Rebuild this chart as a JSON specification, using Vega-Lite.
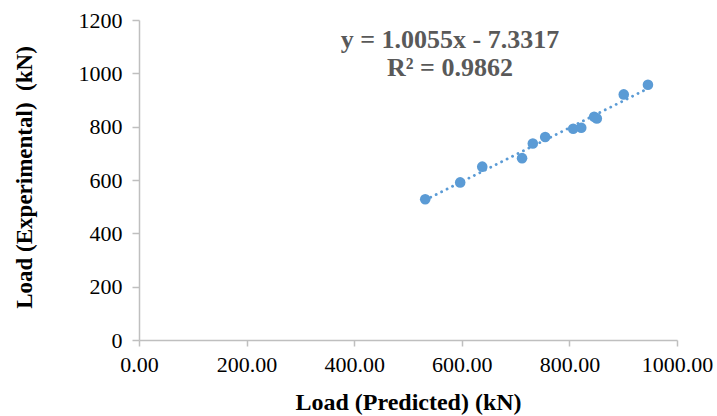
{
  "$schema": "https://vega.github.io/schema/vega-lite/v6.json",
  "autosize": "none",
  "width": 538,
  "height": 320,
  "padding": {"left": 139, "top": 20, "right": 40, "bottom": 76},
  "background": "white",
  "config": {
    "view": {"stroke": null},
    "font": "Liberation Serif"
  },
  "data": {
    "values": [
      {"pred": 532, "exp": 528},
      {"pred": 597, "exp": 591},
      {"pred": 638, "exp": 650},
      {"pred": 712, "exp": 682},
      {"pred": 732, "exp": 737},
      {"pred": 755, "exp": 761},
      {"pred": 807, "exp": 792},
      {"pred": 822, "exp": 796},
      {"pred": 846, "exp": 837},
      {"pred": 851, "exp": 831},
      {"pred": 901, "exp": 921},
      {"pred": 946, "exp": 957}
    ]
  },
  "layer": [
    {
      "transform": [{"regression": "exp", "on": "pred", "method": "linear"}],
      "mark": {"type": "line", "color": "#5b9bd5", "strokeWidth": 2.8, "strokeDash": [0.1, 6], "strokeCap": "round"},
      "encoding": {
        "x": {"field": "pred", "type": "quantitative"},
        "y": {"field": "exp", "type": "quantitative"}
      }
    },
    {
      "mark": {"type": "circle", "color": "#5b9bd5", "opacity": 1, "size": 112},
      "encoding": {
        "x": {
          "field": "pred", "type": "quantitative",
          "scale": {"domain": [0, 1000], "nice": false, "zero": true},
          "axis": {
            "values": [0, 200, 400, 600, 800, 1000], "format": ".2f",
            "title": "Load (Predicted) (kN)", "labelFlush": false,
            "grid": false, "domainColor": "#bfbfbf", "tickColor": "#bfbfbf", "domainWidth": 1.5, "tickWidth": 1.5, "tickSize": 6,
            "labelFont": "Liberation Serif", "labelFontSize": 22, "labelColor": "#000000", "labelPadding": 8,
            "titleFont": "Liberation Serif", "titleFontSize": 24, "titleFontWeight": "bold", "titleColor": "#000000",
            "titleY": 62, "titleBaseline": "middle"
          }
        },
        "y": {
          "field": "exp", "type": "quantitative",
          "scale": {"domain": [0, 1200], "nice": false},
          "axis": {
            "values": [0, 200, 400, 600, 800, 1000, 1200], "format": "d", "labelFlush": false,
            "title": "Load (Experimental)\u00a0\u00a0(kN)",
            "grid": false, "domainColor": "#bfbfbf", "tickColor": "#bfbfbf", "domainWidth": 1.5, "tickWidth": 1.5, "tickSize": 7,
            "labelFont": "Liberation Serif", "labelFontSize": 22, "labelColor": "#000000", "labelPadding": 10,
            "titleFont": "Liberation Serif", "titleFontSize": 23, "titleFontWeight": "bold", "titleColor": "#000000",
            "titleX": -115, "titleY": 157, "titleBaseline": "middle", "titleAngle": -90
          }
        }
      }
    },
    {
      "data": {"values": [
        {"pred": 578, "exp": 1125, "label": "y = 1.0055x - 7.3317"},
        {"pred": 578, "exp": 1020, "label": "R² = 0.9862"}
      ]},
      "mark": {"type": "text", "font": "Liberation Serif", "fontSize": 26, "fontWeight": "bold", "color": "#595959", "align": "center", "baseline": "middle"},
      "encoding": {
        "x": {"field": "pred", "type": "quantitative"},
        "y": {"field": "exp", "type": "quantitative"},
        "text": {"field": "label"}
      }
    }
  ]
}
